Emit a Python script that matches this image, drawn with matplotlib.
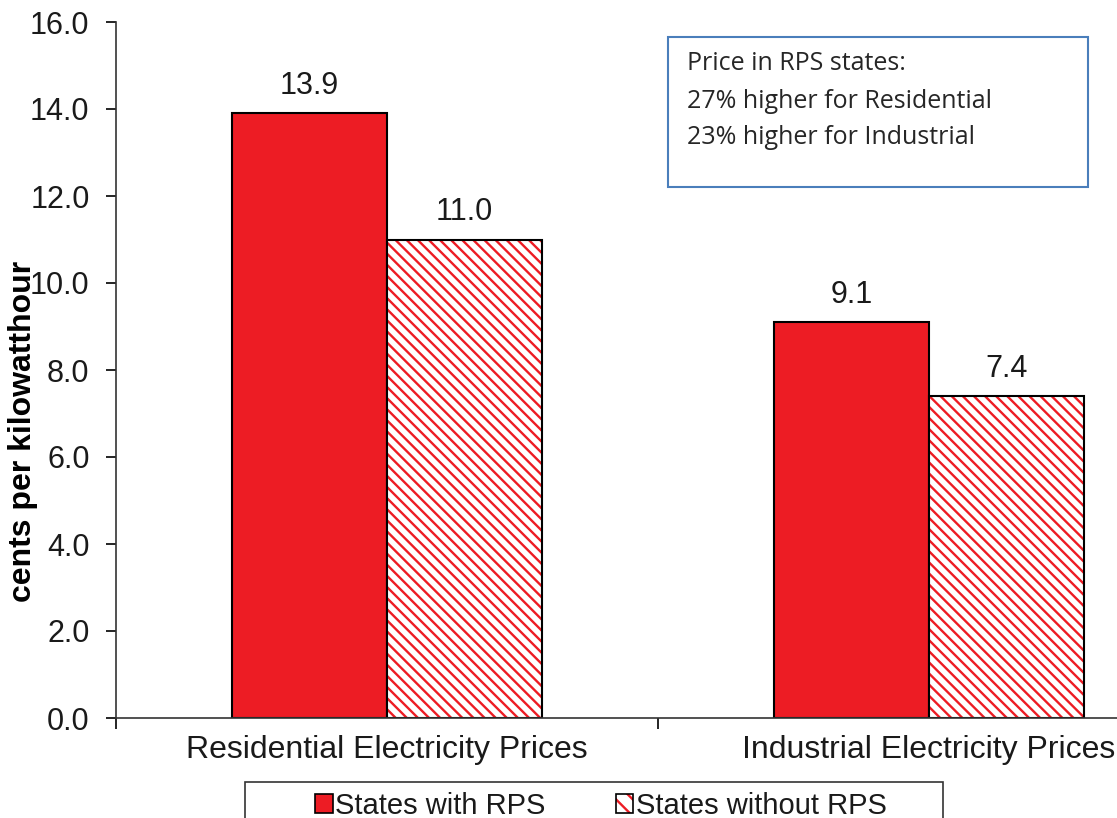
import matplotlib

matplotlib.use("Agg")
import matplotlib.pyplot as plt
import numpy as np
from matplotlib.legend_handler import HandlerTuple
from matplotlib.patches import Patch, Rectangle

categories = ["Residential Electricity Prices", "Industrial Electricity Prices"]
series_names = ["States with RPS", "States without RPS"]
with_rps = [13.9, 9.1]
without_rps = [11.0, 7.4]
y_ticks = [0.0, 2.0, 4.0, 6.0, 8.0, 10.0, 12.0, 14.0, 16.0]
note_lines = [
    "Price in RPS states:",
    "27% higher for Residential",
    "23% higher for Industrial",
]

RED = "#ed1c24"
FONT = ["Liberation Sans", "DejaVu Sans"]

plt.rcParams["font.family"] = FONT
plt.rcParams["hatch.linewidth"] = 1.7

W, H = 1117, 818
fig = plt.figure(figsize=(W / 100, H / 100), dpi=100)
ax = fig.add_axes([116 / W, 1 - 718 / H, (1200 - 116) / W, (718 - 22) / H])

x = np.arange(len(categories))
width = 0.286

ax.bar(x - width / 2, with_rps, width, color=RED, edgecolor="black", linewidth=1.5)
ax.bar(x + width / 2, without_rps, width, color="white", edgecolor=RED,
       hatch="\\\\\\", linewidth=0)
ax.bar(x + width / 2, without_rps, width, fill=False, edgecolor="black", linewidth=1.5)

for xi, v in zip(x - width / 2, with_rps):
    ax.text(xi, v + 0.45, f"{v:.1f}", ha="center", va="baseline", fontsize=22,
            color="#1a1a1a")
for xi, v in zip(x + width / 2, without_rps):
    ax.text(xi, v + 0.45, f"{v:.1f}", ha="center", va="baseline", fontsize=22,
            color="#1a1a1a")

ax.set_xlim(-0.5, 1.5)
ax.set_ylim(0, 16)
ax.set_yticks(y_ticks)
ax.set_yticklabels([f"{t:.1f}" for t in y_ticks], fontsize=22, color="#1a1a1a")
ax.set_xticks(x)
ax.set_xticklabels(categories, fontsize=23, color="#1a1a1a")
ax.tick_params(axis="x", which="major", length=0, pad=12)
ax.set_xticks([-0.5, 0.5, 1.5], minor=True)
ax.tick_params(axis="x", which="minor", length=8, width=1.2, direction="out")
ax.tick_params(axis="y", length=7, width=1.2, direction="out", pad=12)
for side in ("top", "right"):
    ax.spines[side].set_visible(False)
for side in ("left", "bottom"):
    ax.spines[side].set_linewidth(1.2)
    ax.spines[side].set_color("#333333")

# the label touches the 10.0 tick label, as in the original
fig.text(23 / W, 1 - 431 / H, "cents per kilowatthour", rotation=90,
         ha="center", va="center", fontsize=23, fontweight="bold",
         family=["Liberation Sans Narrow", "Liberation Sans", "DejaVu Sans"])

# note box
fig.patches.append(Rectangle((668 / W, 1 - 187 / H), 420 / W, 150 / H,
                             transform=fig.transFigure, fill=False,
                             edgecolor="#4a7ebb", linewidth=1.5))
for i, line in enumerate(note_lines):
    fig.text(687 / W, 1 - (64 + 37 * i) / H, line, ha="left", va="center",
             fontsize=18, family=["Open Sans", "DejaVu Sans"], color="#262626")

# legend box, clipped by the figure bottom
fig.patches.append(Rectangle((245 / W, -0.05), (943 - 245) / W, 0.05 + 1 - 782 / H,
                             transform=fig.transFigure, fill=False,
                             edgecolor="#333333", linewidth=1.2))
handles = [
    Patch(facecolor=RED, edgecolor="black", linewidth=1.2),
    (Patch(facecolor="white", edgecolor=RED, hatch="\\\\", linewidth=0),
     Patch(fill=False, edgecolor="black", linewidth=1.2)),
]
leg = fig.legend(handles, series_names, loc="center left",
                 bbox_to_anchor=(315 / W, 1 - 806 / H), ncol=2, frameon=False,
                 fontsize=21, handlelength=0.6, handleheight=0.6,
                 handletextpad=0.1, columnspacing=2.4, borderaxespad=0,
                 borderpad=0, handler_map={tuple: HandlerTuple(ndivide=1, pad=0)})
for t in leg.get_texts():
    t.set_color("#1a1a1a")

fig.savefig("out.png", dpi=100)
